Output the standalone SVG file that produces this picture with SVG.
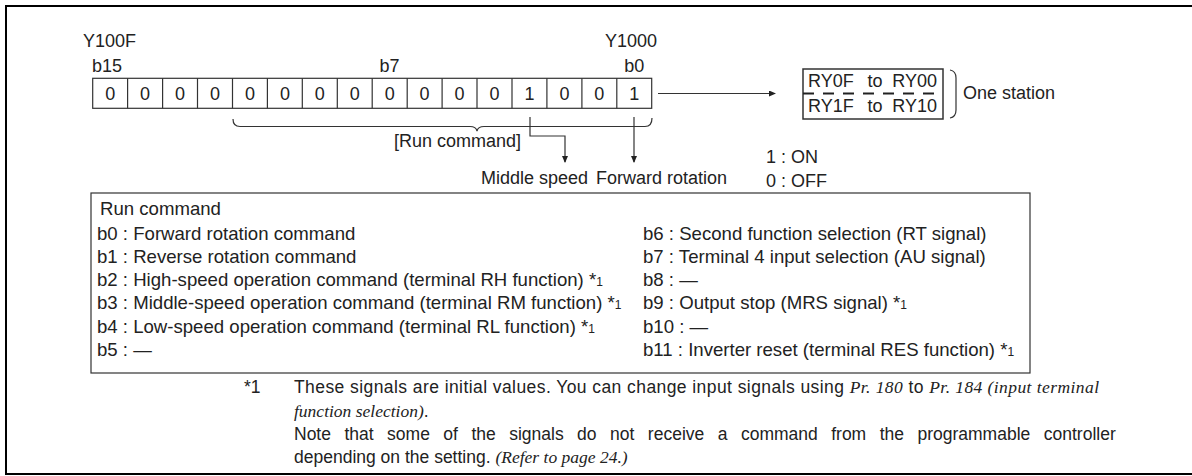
<svg xmlns="http://www.w3.org/2000/svg" width="1192" height="476" viewBox="0 0 1192 476">
<style>
text{font-family:"Liberation Sans",Arial,sans-serif;fill:#222;}
.t{font-size:18px;}
.s{font-size:18.6px;}
.f{font-size:17.5px;}
.d{font-size:18px;text-anchor:middle;}
.it{font-family:"Liberation Serif","Times New Roman",serif;font-style:italic;}
.sub{font-size:12px;}
.ln{fill:none;stroke:#333;stroke-width:1.2;}
.frame{fill:none;stroke:#000;stroke-width:2;}
</style>
<defs>
<marker id="ah" markerWidth="7" markerHeight="6" refX="6" refY="3" orient="auto" markerUnits="userSpaceOnUse">
<path d="M0,0 L7,3 L0,6 Z" fill="#222"/>
</marker>
</defs>
<rect width="1192" height="476" fill="#fff"/>
<g id="frame">
<path class="frame" d="M1192,6 H6 V474 H1192"/>
</g>
<g id="register">
<text class="t" x="83" y="47">Y100F</text>
<text class="t" x="92" y="72">b15</text>
<text class="t" x="389.6" y="72" text-anchor="middle">b7</text>
<text class="t" x="657" y="47" text-anchor="end">Y1000</text>
<text class="t" x="634.2" y="72" text-anchor="middle">b0</text>
<rect x="92.7" y="78.3" width="559" height="30" fill="none" stroke="#333" stroke-width="1.2"/>
<path class="ln" d="M127.6,78.3V108.3M162.6,78.3V108.3M197.5,78.3V108.3M232.5,78.3V108.3M267.4,78.3V108.3M302.3,78.3V108.3M337.3,78.3V108.3M372.2,78.3V108.3M407.2,78.3V108.3M442.1,78.3V108.3M477.0,78.3V108.3M512.0,78.3V108.3M546.9,78.3V108.3M581.9,78.3V108.3M616.8,78.3V108.3"/>
<text class="d" x="110.2" y="100">0</text>
<text class="d" x="145.1" y="100">0</text>
<text class="d" x="180.0" y="100">0</text>
<text class="d" x="215.0" y="100">0</text>
<text class="d" x="249.9" y="100">0</text>
<text class="d" x="284.9" y="100">0</text>
<text class="d" x="319.8" y="100">0</text>
<text class="d" x="354.8" y="100">0</text>
<text class="d" x="389.7" y="100">0</text>
<text class="d" x="424.6" y="100">0</text>
<text class="d" x="459.6" y="100">0</text>
<text class="d" x="494.5" y="100">0</text>
<text class="d" x="529.5" y="100">1</text>
<text class="d" x="564.4" y="100">0</text>
<text class="d" x="599.3" y="100">0</text>
<text class="d" x="634.3" y="100">1</text>
</g>
<g id="brace">
<path class="ln" d="M233,119 Q233,126.5 240,126.5 H470 Q476,126.5 477,131 Q478,126.5 484,126.5 H645 Q652,126.5 652,118"/>
<text class="t" x="394" y="147">[Run command]</text>
</g>
<g id="connectors">
<path class="ln" d="M530,117 V136 H565 V162" marker-end="url(#ah)"/>
<path class="ln" d="M634,117 V162" marker-end="url(#ah)"/>
<path class="ln" d="M658,93.5 H775" marker-end="url(#ah)"/>
</g>
<g id="labels">
<text class="t" x="481" y="184">Middle speed</text>
<text class="t" x="596" y="184">Forward rotation</text>
<text class="t" x="766" y="163">1 : ON</text>
<text class="t" x="766" y="187">0 : OFF</text>
</g>
<g id="station">
<rect x="803" y="69" width="140" height="50" fill="none" stroke="#333" stroke-width="1.5"/>
<line x1="803" y1="93.5" x2="943" y2="93.5" stroke="#222" stroke-width="2" stroke-dasharray="11 9"/>
<text class="t" x="808" y="87">RY0F</text>
<text class="t" x="875" y="87" text-anchor="middle">to</text>
<text class="t" x="937" y="87" text-anchor="end">RY00</text>
<text class="t" x="808" y="112">RY1F</text>
<text class="t" x="875" y="112" text-anchor="middle">to</text>
<text class="t" x="937" y="112" text-anchor="end">RY10</text>
<path class="ln" d="M950,70 Q956,71 956,78 V110 Q956,117 950,118"/>
<text class="t" x="963" y="99">One station</text>
</g>
<g id="runcommand">
<rect x="91" y="193" width="939" height="180" fill="none" stroke="#333" stroke-width="1.2"/>
<text class="s" x="100" y="215">Run command</text>
<text class="s" x="97" y="239.5">b0 : Forward rotation command</text>
<text class="s" x="97" y="262.8">b1 : Reverse rotation command</text>
<text class="s" x="97" y="286.1">b2 : High-speed operation command (terminal RH function) *<tspan class="sub">1</tspan></text>
<text class="s" x="97" y="309.4">b3 : Middle-speed operation command (terminal RM function) *<tspan class="sub">1</tspan></text>
<text class="s" x="97" y="332.7">b4 : Low-speed operation command (terminal RL function) *<tspan class="sub">1</tspan></text>
<text class="s" x="97" y="356">b5 : —</text>
<text class="s" x="643" y="239.5">b6 : Second function selection (RT signal)</text>
<text class="s" x="643" y="262.8">b7 : Terminal 4 input selection (AU signal)</text>
<text class="s" x="643" y="286.1">b8 : —</text>
<text class="s" x="643" y="309.4">b9 : Output stop (MRS signal) *<tspan class="sub">1</tspan></text>
<text class="s" x="643" y="332.7">b10 : —</text>
<text class="s" x="643" y="356">b11 : Inverter reset (terminal RES function) *<tspan class="sub">1</tspan></text>
</g>
<g id="footnote">
<text class="f" x="244" y="393">*1</text>
<text class="f" x="294" y="393" textLength="805" lengthAdjust="spacing">These signals are initial values. You can change input signals using <tspan class="it">Pr. 180</tspan> to <tspan class="it">Pr. 184 (input terminal</tspan></text>
<text class="f" x="294" y="416.5"><tspan class="it">function selection)</tspan>.</text>
<text class="f" x="294" y="440" word-spacing="8.6">Note that some of the signals do not receive a command from the programmable controller</text>
<text class="f" x="294" y="463">depending on the setting. <tspan class="it">(Refer to page 24.)</tspan></text>
</g>
</svg>
